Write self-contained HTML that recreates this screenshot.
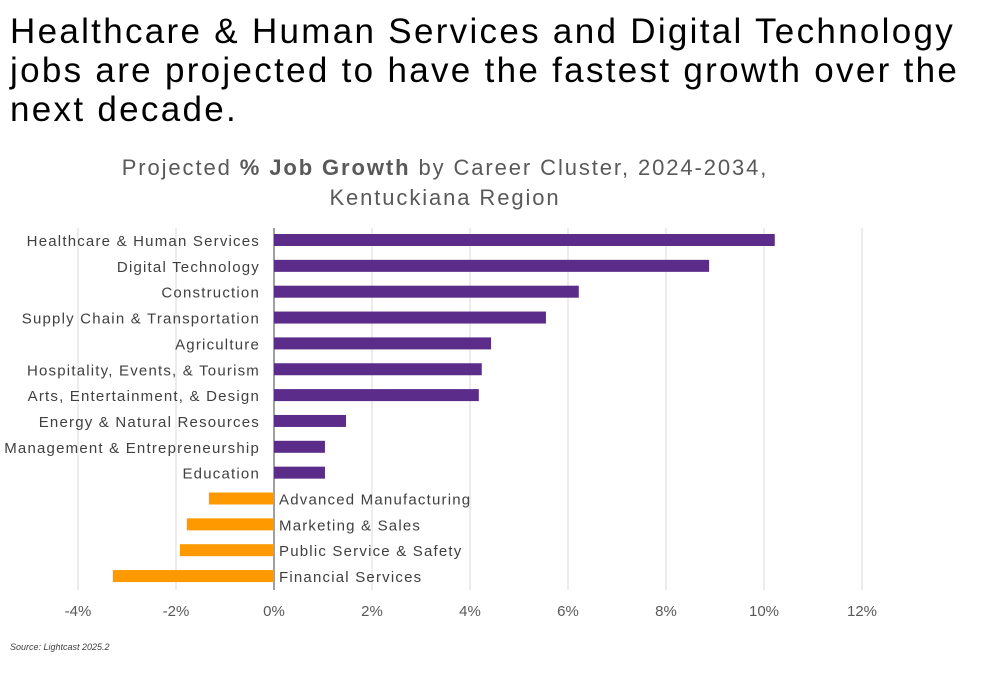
<!DOCTYPE html>
<html><head><meta charset="utf-8"><style>
body{margin:0;width:1000px;height:674px;background:#fff;font-family:"Liberation Sans",sans-serif;overflow:hidden}
#headline{position:absolute;left:10px;top:12px;font-size:35px;line-height:39px;color:#000;margin:0;font-weight:normal;letter-spacing:2.3px;white-space:nowrap}
svg{position:absolute;left:0;top:0}
#src{position:absolute;left:10px;top:642px;font-size:9px;font-style:italic;color:#404040}
</style></head><body>
<h1 id="headline">Healthcare &amp; Human Services and Digital Technology<br>jobs are projected to have the fastest growth over the<br>next decade.</h1>
<svg id="chart" width="1000" height="674">
<text x="445" y="175" text-anchor="middle" font-size="22" letter-spacing="1.9" fill="#595959">Projected <tspan font-weight="bold">% Job Growth</tspan> by Career Cluster, 2024-2034,</text>
<text x="445" y="205" text-anchor="middle" font-size="22" letter-spacing="1.9" fill="#595959">Kentuckiana Region</text>
<g id="grid"></g><g id="bars"></g><g id="labels"></g><g id="ticks"></g>
</svg>
<div id="src">Source: Lightcast 2025.2</div>
<script>
const categories=["Healthcare & Human Services","Digital Technology","Construction","Supply Chain & Transportation","Agriculture","Hospitality, Events, & Tourism","Arts, Entertainment, & Design","Energy & Natural Resources","Management & Entrepreneurship","Education","Advanced Manufacturing","Marketing & Sales","Public Service & Safety","Financial Services"];
const values=[10.22,8.88,6.22,5.55,4.43,4.24,4.18,1.47,1.04,1.04,-1.33,-1.78,-1.92,-3.29];
const tickValues=[-4,-2,0,2,4,6,8,10,12];
const tickLabels=["-4%","-2%","0%","2%","4%","6%","8%","10%","12%"];
const NS="http://www.w3.org/2000/svg";
const x=v=>274+v*49;
const y=i=>240+i*25.85;
function mk(tag,attrs,parent,txt){const e=document.createElementNS(NS,tag);for(const k in attrs)e.setAttribute(k,attrs[k]);if(txt!==undefined)e.textContent=txt;document.getElementById(parent).appendChild(e);return e;}
tickValues.forEach((t,i)=>{
 if(t!==0){const g=mk('line',{x1:x(t),x2:x(t),y1:228,y2:590,stroke:'#d9d9d9','stroke-width':1},'grid');
 
 }
 const l=mk('text',{x:x(t),y:616,'text-anchor':'middle','font-size':15,fill:'#595959'},'ticks',tickLabels[i]);
 
 
});
const ax=mk('line',{x1:x(0),x2:x(0),y1:228,y2:590,stroke:'#404040','stroke-width':1},'grid');


values.forEach((v,i)=>{
 const neg=v<0;
 const r=mk('rect',{x:Math.min(x(0),x(v)),y:y(i)-6,width:Math.abs(x(v)-x(0)),height:12,fill:neg?'#FF9900':'#5B2C8A'},'bars');
 
 
 const t=mk('text',{x:neg?x(0)+5:x(0)-14,y:y(i)+6,'text-anchor':neg?'start':'end','font-size':15,'letter-spacing':1.2,fill:'#404040'},'labels',categories[i]);
 
 
});
</script>
</body></html>
